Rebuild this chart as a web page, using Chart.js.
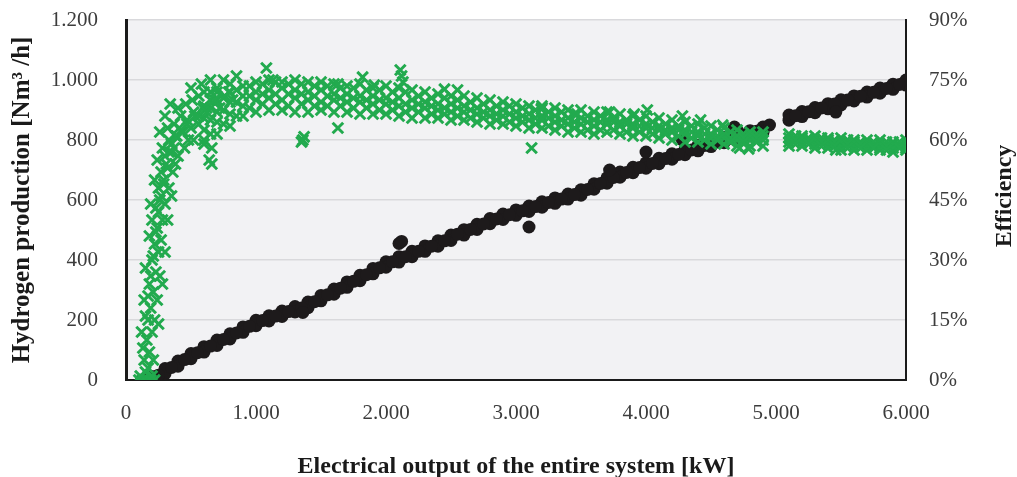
<!DOCTYPE html>
<html lang="en">
<head>
<meta charset="UTF-8">
<title>Hydrogen production and efficiency</title>
<script src="https://cdn.jsdelivr.net/npm/chart.js"></script>
<style>
  html, body { margin: 0; padding: 0; background: #ffffff; }
  #wrap { width: 1017px; height: 477px; }
</style>
</head>
<body>
<div id="wrap"><canvas id="grafica" width="1017" height="477"></canvas></div>
<script>
// Efficiency band (green x), read as rows across the band, % on right axis
const effKw = [600,700,800,900,1000,1100,1200,1300,1400,1500,1600,1700,1800,1900,2000,2100,2200,2300,2400,2500,
  2600,2700,2800,2900,3000,3100,3200,3300,3400,3500,3600,3700,3800,3900,4000,4100,4200,4300,4400,4500,
  4600,4700,4800,4900,5100,5200,5300,5400,5500,5600,5700,5800,5900,6000];
const effRowA = [68.5,70,72,73.5,74.5,75,74.5,75,74.5,74.5, 74,73.5,74,73,73.5,73,72.5,72,71.5,71,
  71,70.5,70,69.5,69,68.5,68.5,68,67.5,67.5, 67,67,66.5,66,66,65.5,65,64.5,64,63.5,
  63,62.5,62,62, 61.5,61,61,60.5,60.5,60,60,60,59.5,60];
const effRowB = [65.5,67,69.5,71,72,72.5,73,72.5,72,72.5, 71.5,71.5,71,71,70.5,70.5,70,69.5,69,69,
  68.5,68,67.5,67.5,67,66.5,66,66,65.5,65.5, 65,65,64.5,64,64,63.5,63,62.5,62,61.5,
  61.5,61,61,61, 60.5,60.5,60,60,59.5,59.5,59,59,59,59];
const effRowC = [62.5,64.5,66.5,68.5,70,70.5,70,70.5,70,69.5, 70,69.5,69.5,69,69,68.5,68,68,67.5,67,
  67,66.5,66,66,65.5,65,65,64.5,64,64, 63.5,64,63.5,63,63,62.5,62,61.5,61,60.5,
  60.5,60,60,60, 59.5,59.5,59,59,58.5,58.5,58.5,58,58,58];
const effRowD = [59,61.5,63.5,66,67,67.5,67.5,67,67,67.5, 67,67,66.5,66.5,66.5,66,65.5,65.5,65.5,65,
  65,64.5,64,64,63.5,63,63,62.5,62,62, 61.5,62,61.5,61,61,60.5,60,59.5,59.5,59,
  59,58.5,58.5,58.5, 58.5,58.5,58,58,57.5,57.5,57.5,57.5,57,57.5];

// readings between the columns above
const effKwMid = [650,750,850,950,1050,1150,1250,1350,1450,1550,1650,1750,1850,1950,2050,2150,2250,2350,2450,2550,
  2650,2750,2850,2950,3050,3150,3250,3350,3450,3550,3650,3750,3850,3950,4050,4150,4250,4350,4450,4550,
  4650,4750,4850,5150,5250,5350,5450,5550,5650,5750,5850,5950];
const effRowE = [68,70.5,72.5,73.5,74,74.5,74,74,73.5,73.5, 73,73,72.5,72.5,72,72,71,70.5,70.5,70,
  69.5,69,68.5,68.5,68,67.5,67,67,66.5,66, 66,65.5,65,65,64.5,64,63.5,63.5,63,62.5,
  62,61.5,61.5, 61,60.5,60.5,60,60,59.5,59.5,59.5,59.5];
const effRowF = [65,67.5,69.5,71,71.5,71.5,71.5,71.5,71,71, 70.5,70.5,70,70,69.5,69,69,68.5,68,68,
  67.5,67,66.5,66.5,66,65.5,65.5,65,64.5,64.5, 64.5,64.5,64,63.5,63,62.5,62.5,62,61.5,61,
  60.5,60.5,60.5, 60,60,59.5,59.5,59,59,58.5,58.5,58.5];
const effRowG = [61.5,64,66,68,69,69,68.5,69,68.5,68.5, 68.5,68,68,67.5,67.5,67,67,66.5,66.5,66,
  65.5,65.5,65,64.5,64.5,64,63.5,63.5,63,62.5, 62.5,62.5,62,62,61.5,61.5,61,60.5,60,60,
  59.5,59.5,59.5, 59,59,58.5,58.5,58,58,58,57.5,58];

// Start-up part of the efficiency cloud
const effRiseKw = [100,130,160,190,220,110,150,200,170,140,180,210,160,200,170,220,190,240,210,180,
  230,260,200,250,220,270,240,200,280,230,260,300,250,290,330,270,320,360,300,350,
  400,450,280,330,380,430,480,520,320,370,420,470,520,560,600,640,660,660,400,460,
  510,560,600,650,620,500,580,650,700,750,800,850,
  120,250,140,280,150,300,180,320,190,350,220,380,240,260,300,340,
  130,150,170,190,210,230,250,270,290,310,330,350,370,390,410,440,470,500,530,560,
  590,620,650,680,700,720,760,790,820];
const effRisePct = [0,0,0,0,0,1,2,1,3,5,7,5,10,12,15,15,18,20,22,24,
  27,26,30,32,34,35,38,40,40,43,45,44,48,49,48,52,53,52,56,57,
  56,58,58,60,61,62,60,60,63,64,66,65,67,64,60,55,58,54,68,69,
  70,71,72,72,68,73,74,75,73,75,74,76,
  12,14,20,24,28,32,36,40,44,46,50,54,55,62,66,69,
  8,16,21,26,31,37,42,46,50,54,57,59,58,61,63,62,64,63,66,66,
  68,67,70,70,72,68,71,72,70];

// Scattered efficiency readings off the band
const effOutKw = [1080,1130,1630,1820,1910,2110,2120,2130,2450,2550,3195,1360,1370,1350,1630,3120,3200,3470,3720,3910,
  4010,4280,4420,4590,4720,4790,5460];
const effOutPct = [78,75,74,75.7,73.7,77.5,76,74.5,72.7,72.5,67.7,60,60.8,59.5,63,58,68,66.5,67,66.5,
  67.5,66,65,63.7,58,57.8,57.5];

// Hydrogen production band (black dots), Nm3/h
const h2Kw = [200,300,400,500,600,700,800,900,1000,1100,1200,1300,1400,1500,1600,1700,1800,1900,2000,2100,
  2200,2300,2400,2500,2600,2700,2800,2900,3000,3100,3200,3300,3400,3500,3600,3700,3800,3900,4000,4100,
  4200,4300,4400,4500,4600,4700,4800,4900,5100,5200,5300,5400,5500,5600,5700,5800,5900,6000];
const h2Upper = [12,38,63,88,111,133,154,177,199,214, 230,245,260,282,303,327,349,372,394,411,
  429,447,464,483,501,519,538,553,567,580, 594,607,620,634,654,674,693,709,724,739,
  754,768,782,795,808,820,831,843, 883,895,908,921,934,947,960,973,986,1000];
const h2Lower = [0,21,46,71,93,115,137,159,181,197, 212,227,241,264,286,309,331,354,376,393,
  411,429,446,465,483,502,521,535,549,562, 576,589,603,616,636,656,676,691,706,721,
  736,751,764,778,791,803,814,826, 866,878,891,904,917,930,943,956,969,983];
const h2KwMid = [250,350,450,550,650,750,850,950,1050,1150,1250,1350,1450,1550,1650,1750,1850,1950,2050,2150,
  2250,2350,2450,2550,2650,2750,2850,2950,3050,3150,3250,3350,3450,3550,3650,3750,3850,3950,4050,4150,
  4250,4350,4450,4550,4650,4750,4850,5150,5250,5350,5450,5550,5650,5750,5850,5950];
const h2Mid = [16,42,68,91,113,135,157,179,198,213, 228,240,261,284,306,329,351,374,394,411,
  429,446,464,486,502,520,537,551,564,578, 592,603,618,635,655,675,692,708,722,738,
  752,767,782,793,806,817,829, 881,894,907,920,933,946,959,972,985];
const h2OutKw = [2100,2120,3100,3720,4000,4280,4680,4700,4950,5460,1360,120,150,180];
const h2OutVal = [455,462,510,700,760,800,843,833,850,893,225,0,0,0];

const yTicks = [0,200,400,600,800,1000,1200];
const effTicks = [0,15,30,45,60,75,90];
const xTicks = [0,1000,2000,3000,4000,5000,6000];

const verde = '#22aa4e';
const negro = '#1d1a1b';
const serif = '"Liberation Serif", "DejaVu Serif", serif';

function puntos(xs, ys) {
  return xs.map((x, i) => ({x: x, y: ys[i]}));
}
function miles(v) {
  return String(v).replace(/\B(?=(\d{3})+(?!\d))/g, '.');
}

let efficiencyPts = [];
[effRowA, effRowB, effRowC, effRowD].forEach(row => {
  efficiencyPts = efficiencyPts.concat(puntos(effKw, row));
});
[effRowE, effRowF, effRowG].forEach(row => {
  efficiencyPts = efficiencyPts.concat(puntos(effKwMid, row));
});
efficiencyPts = efficiencyPts.concat(puntos(effRiseKw, effRisePct), puntos(effOutKw, effOutPct));

const hydrogenPts = puntos(h2Kw, h2Upper).concat(puntos(h2Kw, h2Lower), puntos(h2KwMid, h2Mid), puntos(h2OutKw, h2OutVal));

const fondoPlot = {
  id: 'fondoPlot',
  beforeDraw(chart) {
    const {ctx, chartArea: a} = chart;
    ctx.save();
    ctx.fillStyle = '#f2f2f4';
    ctx.fillRect(a.left, a.top, a.right - a.left, a.bottom - a.top);
    ctx.restore();
  }
};
// right title reads bottom-to-top like the left one
const tituloDerecho = {
  id: 'tituloDerecho',
  afterDraw(chart) {
    const {ctx, chartArea: a} = chart;
    ctx.save();
    ctx.translate(1005, (a.top + a.bottom) / 2 - 4);
    ctx.rotate(-Math.PI / 2);
    ctx.font = 'bold 24px ' + serif;
    ctx.fillStyle = '#1a1a1a';
    ctx.textAlign = 'center';
    ctx.textBaseline = 'middle';
    ctx.fillText('Efficiency', 0, 0);
    ctx.restore();
  }
};

// the tick padding would otherwise push the plot top down
function ajusteVertical(ancho) {
  return s => { s.width = ancho; s.paddingTop = 0; s.paddingBottom = 0; };
}

new Chart(document.getElementById('grafica').getContext('2d'), {
  type: 'scatter',
  data: {
    datasets: [
      {
        label: 'Efficiency',
        data: efficiencyPts,
        yAxisID: 'y2',
        pointStyle: 'crossRot',
        pointRadius: 7.5,
        pointBorderWidth: 3,
        borderColor: verde,
        backgroundColor: verde
      },
      {
        label: 'Hydrogen production',
        data: hydrogenPts,
        yAxisID: 'y',
        pointStyle: 'circle',
        pointRadius: 6.5,
        pointBorderWidth: 0,
        borderColor: negro,
        backgroundColor: negro
      }
    ]
  },
  options: {
    responsive: false,
    animation: false,
    layout: {autoPadding: false, padding: {top: 20, left: 0, right: 0, bottom: 0}},
    plugins: {legend: {display: false}, tooltip: {enabled: false}},
    scales: {
      x: {
        type: 'linear',
        min: 0, max: 6000,
        afterBuildTicks: s => { s.ticks = xTicks.map(v => ({value: v})); },
        afterFit: s => { s.height = 97; },
        grid: {display: false, drawTicks: false},
        border: {color: '#1a1a1a', width: 2},
        ticks: {padding: 21, color: '#3c3c3c', font: {family: serif, size: 21}, callback: v => miles(v)},
        title: {display: true, text: 'Electrical output of the entire system [kW]', color: '#1a1a1a',
          font: {family: serif, size: 24, weight: 'bold'}, padding: {top: 0, bottom: -4}}
      },
      y: {
        position: 'left',
        min: 0, max: 1200,
        afterBuildTicks: s => { s.ticks = yTicks.map(v => ({value: v})); },
        afterFit: ajusteVertical(126),
        grid: {color: '#d9d9dc', lineWidth: 1.5, drawTicks: false},
        border: {color: '#1a1a1a', width: 3},
        ticks: {padding: 28, color: '#3c3c3c', font: {family: serif, size: 21}, callback: v => miles(v)},
        title: {display: true, text: 'Hydrogen production [Nm³ /h]', color: '#1a1a1a',
          font: {family: serif, size: 25, weight: 'bold'}, padding: {top: 8, bottom: 0}}
      },
      y2: {
        position: 'right',
        min: 0, max: 90,
        afterBuildTicks: s => { s.ticks = effTicks.map(v => ({value: v})); },
        afterFit: ajusteVertical(111),
        grid: {display: false, drawTicks: false},
        border: {color: '#1a1a1a', width: 2},
        ticks: {padding: 23, color: '#3c3c3c', font: {family: serif, size: 21}, callback: v => v + '%'}
      }
    }
  },
  plugins: [fondoPlot, tituloDerecho]
});
</script>
</body>
</html>
